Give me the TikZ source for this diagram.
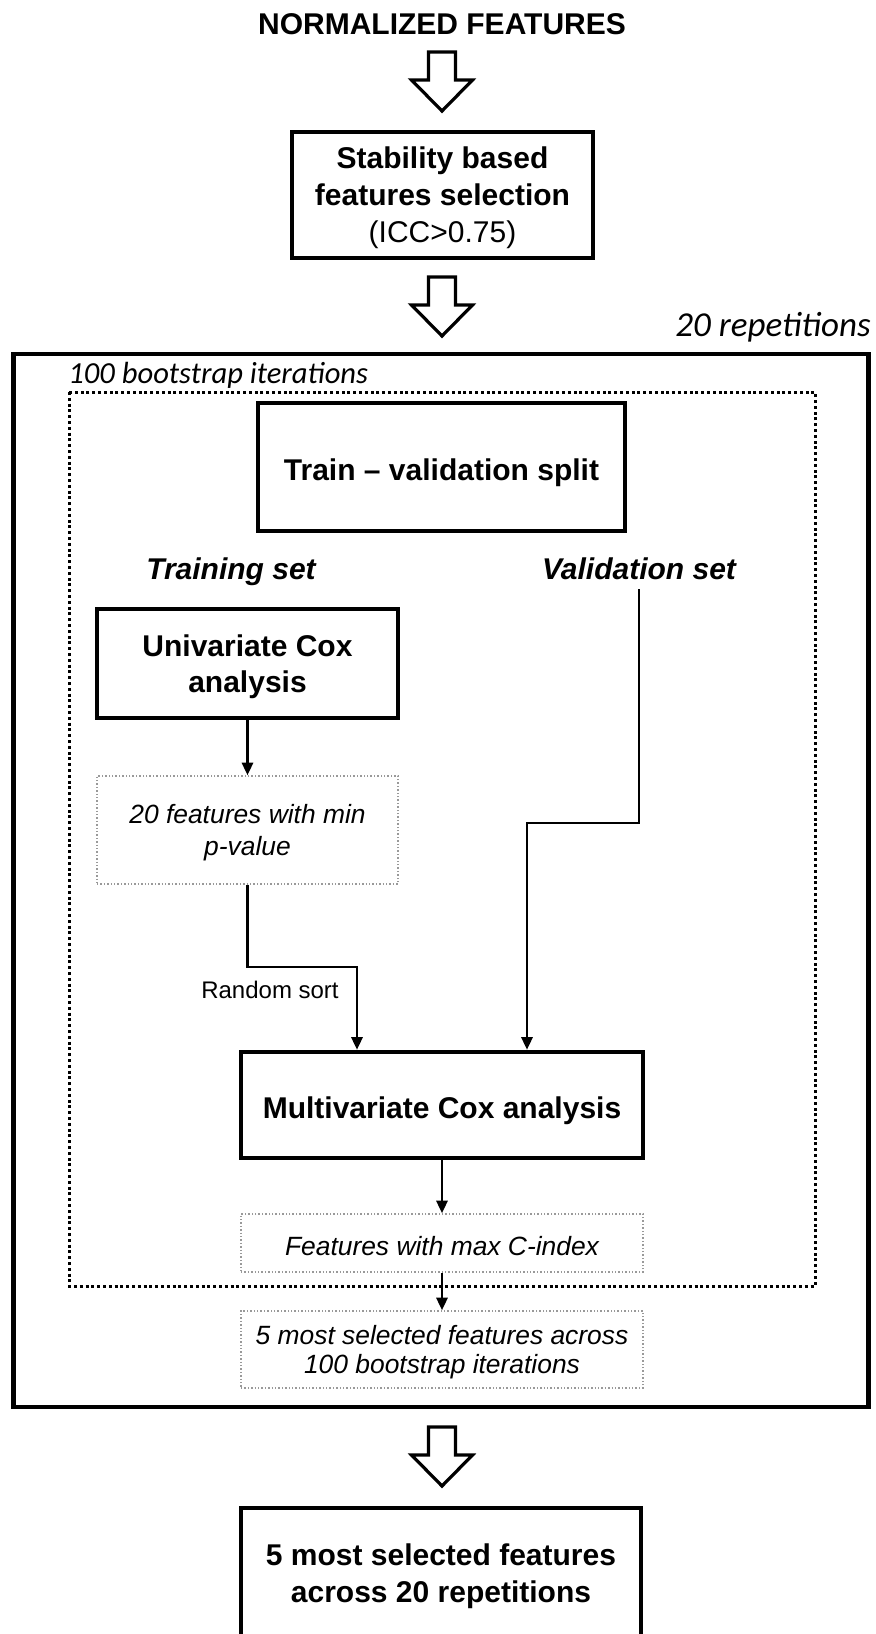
\documentclass[tikz,border=0pt]{standalone}
\usepackage{fontspec}
\setmainfont{Liberation Sans}
\newfontfamily\calibfont{Carlito}
\usetikzlibrary{arrows.meta}

\tikzset{
  bigbox/.style={draw, line width=2.2pt, align=center, inner sep=0pt,
    font=\bfseries\fontsize{15}{18.5}\selectfont, lower=16.5pt},
  smallbox/.style={draw=gray!80, densely dotted, line width=0.7pt, align=center, inner sep=0pt,
    font=\itshape\fontsize{13.2}{14.5}\selectfont, lower=13pt},
  lower/.style={execute at begin node={\rule{0pt}{#1}}},
  setlabel/.style={font=\bfseries\itshape\fontsize{15}{18}\selectfont, anchor=base},
  looplabel/.style={font=\calibfont\itshape\fontsize{15.3}{18}\selectfont, inner sep=0pt},
  conn/.style={line width=1.4pt, -{Triangle[length=6.3pt,width=5.5pt]}},
  hollowarrow/.style={line width=1.6pt, line join=miter, fill=white},
}

% big white arrow, #1 = top of the shaft
\newcommand{\fatarrow}[1]{%
  \draw[hollowarrow] (#1) ++(-13.5,0) -- ++(27,0) -- ++(0,28) -- ++(17,0)
    -- ++(-30.5,31) -- ++(-30.5,-31) -- ++(17,0) -- cycle;}

\begin{document}
\begin{tikzpicture}[x=0.5pt, y=-0.5pt]
    \clip (0,0) rectangle (875,1634);

    % Titre
    \node[font=\bfseries\fontsize{15}{18}\selectfont] (title) at (442,24) {NORMALIZED FEATURES};
    \fatarrow{442,52}

    % Stability
    \node[bigbox, text depth=-6pt, minimum width=150.5pt, minimum height=63pt] (stab) at (442.5,195)
        {Stability based\\features selection\\{\mdseries (ICC>0.75)}};
    \fatarrow{442,277}

    % 20 repetitions
    \draw[line width=2.4pt] (13.5,354) rectangle (868.5,1407);
    \node[looplabel, anchor=east, font=\calibfont\itshape\fontsize{17.5}{20}\selectfont] (reps) at (871,327) {20 repetitions};

    % 100 bootstrap iterations
    \draw[line width=1.5pt, dash pattern=on 1.5pt off 1.4pt] (69,392) rectangle (815,1286);
    \node[looplabel, anchor=west] (boot) at (68,375) {100 bootstrap iterations};

    \node[bigbox, minimum width=183.5pt, minimum height=64pt] (split) at (441.5,467) {Train -- validation split};

    \node[setlabel] (train) at (231,579) {Training set};
    \node[setlabel] (valid) at (639,579) {Validation set};

    % Training branch
    \node[bigbox, text depth=-1.5pt, minimum width=150.5pt, minimum height=54.5pt, font=\bfseries\fontsize{15}{18}\selectfont]
        (uni) at (247.5,663.5) {Univariate Cox\\analysis};
    \node[smallbox, text depth=0pt, minimum width=150.5pt, minimum height=54pt, font=\itshape\fontsize{13.2}{16}\selectfont]
        (feat20) at (247.5,830) {20 features with min\\p-value};
    \draw[conn] (uni) -- (feat20);

    \node[bigbox, minimum width=201pt, minimum height=53pt] (multi) at (442,1105) {Multivariate Cox analysis};

    \coordinate (bendA) at (357,967);
    \draw[conn] (feat20.south) |- (bendA) -- (bendA |- multi.north);
    \node[font=\fontsize{12}{14}\selectfont] (sort) at (270,990) {Random sort};

    % Validation branch
    \coordinate (bendB) at (527,823);
    \draw[conn] ([yshift=-1.5pt]valid.south) |- (bendB) -- (bendB |- multi.north);

    \node[smallbox, minimum width=201pt, minimum height=29pt] (cidx) at (442,1243) {Features with max C-index};
    \node[smallbox, text depth=0pt, minimum width=201pt, minimum height=38.5pt] (top5) at (442,1349.5)
        {5 most selected features across\\100 bootstrap iterations};
    \draw[conn] (multi) -- (cidx);
    \draw[conn] (cidx) -- (top5);

    % Final
    \fatarrow{442,1427}
    \node[bigbox, text depth=0pt, minimum width=200pt, minimum height=65.5pt] (final) at (441,1573.5)
        {5 most selected features\\across 20 repetitions};
\end{tikzpicture}
\end{document}
